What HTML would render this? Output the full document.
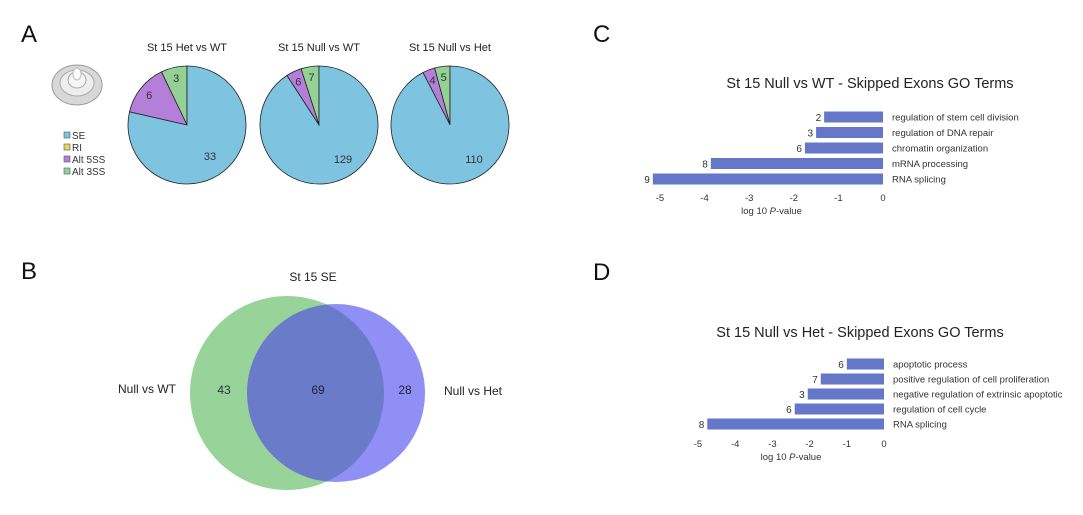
<!DOCTYPE html>
<html><head><meta charset="utf-8"><style>
body{margin:0;background:#fff;}
svg{display:block;font-family:"Liberation Sans",Arial,sans-serif;}
</style></head><body>
<svg id="fig" width="1083" height="515" viewBox="0 0 1083 515">
<rect width="1083" height="515" fill="#fff"/>
<g font-size="24" fill="#111">
<text x="21" y="42">A</text>
<text x="21" y="279">B</text>
<text x="593" y="42">C</text>
<text x="593" y="280">D</text>
</g>
<g>
<ellipse cx="77" cy="85" rx="25" ry="20" fill="#d8d8d8" stroke="#999" stroke-width="1"/>
<ellipse cx="77" cy="83" rx="17" ry="13" fill="#eee" stroke="#aaa"/>
<ellipse cx="77" cy="80" rx="9" ry="8" fill="#f6f6f6" stroke="#aaa"/>
<ellipse cx="77" cy="74" rx="4" ry="6" fill="#fff" stroke="#bbb"/>
</g>
<g id="legend" font-size="10" fill="#333"></g>
<g id="pies"></g>
<g id="venn"></g>
<g id="barC"></g>
<g id="barD"></g>
</svg>
<script>
const NS="http://www.w3.org/2000/svg";
function mk(tag,attrs,parent,text){const e=document.createElementNS(NS,tag);for(const k in attrs)e.setAttribute(k,attrs[k]);if(text!==undefined)e.textContent=text;parent.appendChild(e);return e;}

// ---- Pie data ----
const pieTitles=["St 15 Het vs WT","St 15 Null vs WT","St 15 Null vs Het"];
const pieSE=[33,129,110];
const pieAlt5=[6,6,4];
const pieAlt3=[3,7,5];
const legendLabels=["SE","RI","Alt 5SS","Alt 3SS"];
const legendColors=["#7ec4e0","#e8d36a","#b47fd8","#93d195"];

const lg=document.getElementById('legend');
legendLabels.forEach((l,i)=>{
  const r=mk('rect',{x:64,y:132+i*12,width:6,height:6,fill:legendColors[i],stroke:'#555','stroke-width':0.6},lg);
  
  
  const t=mk('text',{x:72,y:139+i*12},lg,l);
  
  
});

const pies=document.getElementById('pies');
const pieCx=[187,319,450],pieCy=125,pieR=59;
function pt(cx,cy,r,frac){const a=-Math.PI/2-frac*2*Math.PI;return [cx+r*Math.cos(a),cy+r*Math.sin(a)];}
function slice(g,cx,cy,r,f0,f1,color,name){
  const p0=pt(cx,cy,r,f0),p1=pt(cx,cy,r,f1);const large=(f1-f0)>0.5?1:0;
  const p=mk('path',{d:`M${cx},${cy}L${p0[0]},${p0[1]}A${r},${r} 0 ${large} 0 ${p1[0]},${p1[1]}Z`,fill:color,stroke:'#222','stroke-width':0.8},g);
  
  
}
pieTitles.forEach((title,i)=>{
  const g=mk('g',{},pies);
  
  
  const cx=pieCx[i];
  const tot=pieSE[i]+pieAlt5[i]+pieAlt3[i];
  const f3=pieAlt3[i]/tot,f5=pieAlt5[i]/tot;
  const t=mk('text',{x:cx,y:51,'text-anchor':'middle','font-size':11,fill:'#222'},g,title);
  
  
  slice(g,cx,pieCy,pieR,0,f3,'#93d195','slice-alt-3ss');
  slice(g,cx,pieCy,pieR,f3,f3+f5,'#b47fd8','slice-alt-5ss');
  slice(g,cx,pieCy,pieR,f3+f5,1,'#7ec4e0','slice-se');
  const labs=[[pieAlt3[i],f3/2,0.82],[pieAlt5[i],f3+f5/2,0.82],[pieSE[i],f3+f5+(1-f3-f5)/2,0.45]];
  labs.forEach(([v,f,rr],j)=>{
    let [x,y]=pt(cx,pieCy,pieR*rr,f);
    if(j===2){x=cx+(i===0?23:24);y=pieCy+(i===0?31:34);}
    const lt=mk('text',{x:x,y:y+4,'text-anchor':'middle','font-size':11,fill:'#333'},g,String(v));
    
    
  });
});

// ---- Venn ----
const vennLeftOnly=43,vennOverlap=69,vennRightOnly=28;
const vg=document.getElementById('venn');


const c1=mk('circle',{cx:287,cy:393,r:97,fill:'#98d49a'},vg);


const c2=mk('circle',{cx:336,cy:393,r:89,fill:'#8f8ff5'},vg);


mk('clipPath',{id:'cp1'},vg);
mk('circle',{cx:287,cy:393,r:97},document.getElementById('cp1'));
const c3=mk('circle',{cx:336,cy:393,r:89,fill:'#6a7cc9','clip-path':'url(#cp1)'},vg);


[[313,281,'St 15 SE','venn-title','middle',12,'#222'],[147,393,'Null vs WT','venn-label-left','middle',12,'#222'],[473,395,'Null vs Het','venn-label-right','middle',12,'#222'],
 [224,394,String(vennLeftOnly),'venn-count-left','middle',12,'#333'],[318,394,String(vennOverlap),'venn-count-overlap','middle',12,'#223'],[405,394,String(vennRightOnly),'venn-count-right','middle',12,'#223']].forEach(a=>{
  const t=mk('text',{x:a[0],y:a[1],'text-anchor':a[4],'font-size':a[5],fill:a[6]},vg,a[2]);
  
  
});

// ---- Bar charts ----
const cTerms=["regulation of stem cell division","regulation of DNA repair","chromatin organization","mRNA processing","RNA splicing"];
const cValues=[-1.32,-1.5,-1.75,-3.86,-5.16];
const cCounts=[2,3,6,8,9];
const dTerms=["apoptotic process","positive regulation of cell proliferation","negative regulation of extrinsic apoptotic","regulation of cell cycle","RNA splicing"];
const dValues=[-1.0,-1.7,-2.05,-2.4,-4.75];
const dCounts=[6,7,3,6,8];
const tickVals=[-5,-4,-3,-2,-1,0];

function barChart(gid,name,title,titleX,titleY,terms,vals,counts,x0,unit,rowY0,rowStep,tickY){
  const g=document.getElementById(gid);
  
  
  const xs=v=>x0+v*unit;
  const tt=mk('text',{x:titleX,y:titleY,'text-anchor':'middle','font-size':14.5,fill:'#222'},g,title);
  
  
  terms.forEach((term,i)=>{
    const y=rowY0+i*rowStep;
    const b=mk('rect',{x:xs(vals[i]),y:y-5.5,width:xs(0)-xs(vals[i]),height:11,fill:'#6477c8'},g);
    
    
    const c=mk('text',{x:xs(vals[i])-3,y:y+4,'text-anchor':'end','font-size':10,fill:'#333'},g,String(counts[i]));
    
    
    const l=mk('text',{x:xs(0)+9,y:y+3.5,'font-size':9.5,fill:'#333'},g,term);
    
    
  });
  tickVals.forEach(v=>{
    const t=mk('text',{x:xs(v),y:tickY,'text-anchor':'middle','font-size':9.5,fill:'#333'},g,String(v));
    
    
  });
  const xl=mk('text',{x:xs(-2.5),y:tickY+13,'text-anchor':'middle','font-size':9.5,fill:'#333'},g);
  
  
  xl.innerHTML='log 10 <tspan font-style="italic">P</tspan>-value';
}
barChart('barC','bar-chart-null-vs-wt','St 15 Null vs WT -  Skipped Exons GO Terms',870,88,cTerms,cValues,cCounts,883,44.6,117,15.5,201);
barChart('barD','bar-chart-null-vs-het','St 15 Null vs Het  -  Skipped Exons GO Terms',860,337,dTerms,dValues,dCounts,884,37.2,364,15,447);
</script>
</body></html>
